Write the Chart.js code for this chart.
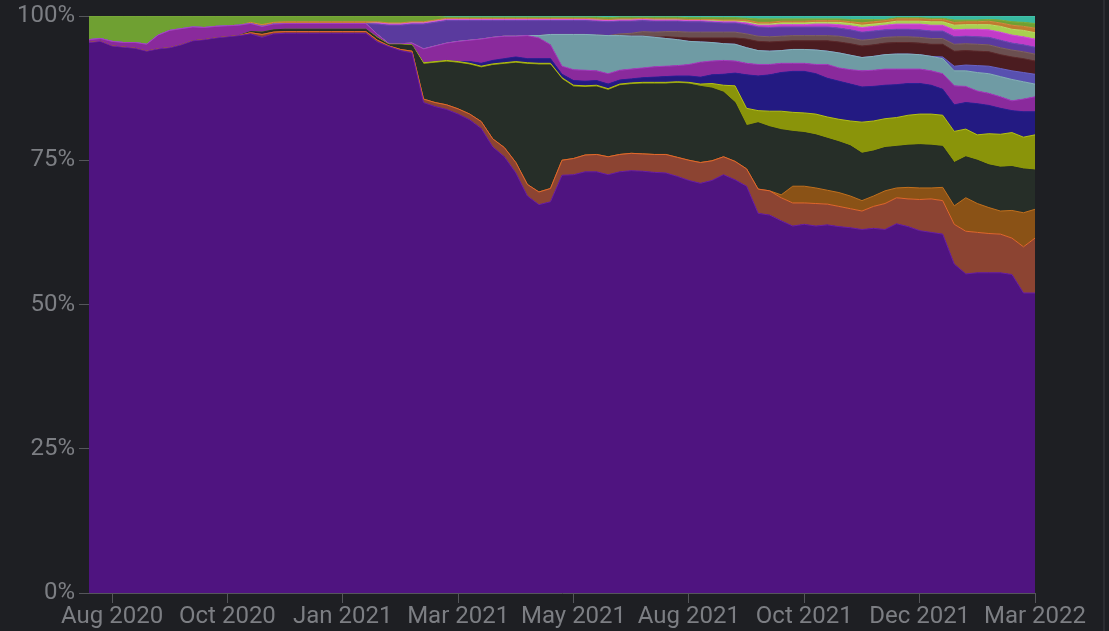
<!DOCTYPE html>
<html>
<head>
<meta charset="utf-8">
<script src="https://cdn.jsdelivr.net/npm/chart.js@4.4.1/dist/chart.umd.min.js"></script>
<style>
  html, body { margin: 0; padding: 0; background: #1e1f23; overflow: hidden; }
  #wrap { position: relative; width: 1109px; height: 631px; }
  #edge { position: absolute; left: 1103px; top: 0; width: 2px; height: 631px; background: #2b2c31; }
</style>
</head>
<body>
<div id="wrap">
  <canvas id="shareChart" width="1109" height="631"></canvas>
  <div id="edge"></div>
</div>
<script>
// weekly share (%) per series, bottom of the stack first
const firstWeek = '2020-08-04';

const P = [95.4,95.6,94.8,94.6,94.4,93.9,94.3,94.5,95.0,95.7,
  95.9,96.2,96.4,96.6,96.9,96.3,96.9,97.0,97.0,97.0,
  97.0,97.0,97.0,97.0,97.0,95.5,94.7,94.0,93.6,85.0,
  84.3,83.8,83.0,82.0,80.5,77.3,75.6,72.8,68.8,67.3,
  67.8,72.4,72.5,73.0,73.0,72.5,73.0,73.2,73.1,72.9,
  72.8,72.2,71.5,71.0,71.5,72.5,71.6,70.5,65.8,65.5,
  64.5,63.6,63.9,63.6,63.8,63.5,63.3,63.0,63.2,63.0,
  64.0,63.5,62.8,62.5,62.2,57.0,55.3,55.5,55.5,55.5,
  55.2,52.0,52.0];
const OR = [0,0,0,0,0,0,0,0,0,0,
  0,0,0,0,0.2,0.5,0.3,0.3,0.3,0.3,
  0.3,0.3,0.3,0.3,0.3,0.3,0.1,0.2,0.3,0.6,
  0.7,0.8,0.9,1.0,1.2,1.4,1.6,1.8,2.0,2.2,
  2.3,2.6,2.8,2.9,3.0,3.1,3.0,3.0,3.0,3.1,
  3.2,3.3,3.5,3.6,3.4,3.1,3.2,3.0,4.2,4.2,
  4.0,4.0,3.7,3.9,3.6,3.5,3.3,3.2,3.8,4.5,
  4.5,4.8,5.4,5.8,5.8,6.9,7.4,7.0,6.8,6.7,
  6.3,8.0,9.5];
const BR = [0,0,0,0,0,0,0,0,0,0,
  0,0,0,0,0,0,0,0,0,0,
  0,0,0,0,0,0,0,0,0,0,
  0,0,0,0,0,0,0,0,0,0,
  0,0,0,0,0,0,0,0,0,0,
  0,0,0,0,0,0,0,0,0,0,
  0.5,2.9,2.9,2.7,2.4,2.4,2.2,1.8,1.8,2.2,
  1.7,2.0,2.0,1.9,2.3,3.2,5.8,5.0,4.5,4.0,
  4.8,5.9,5.0];
const DG = [0,0,0,0,0,0,0,0,0,0,
  0,0,0,0,0.2,0.4,0.4,0.4,0.4,0.4,
  0.4,0.4,0.4,0.4,0.4,0.4,0.2,0.8,1.0,6.0,
  6.8,7.4,7.9,8.5,9.3,12.7,14.4,17.2,20.8,22.0,
  21.4,14.0,12.4,11.7,11.7,11.5,11.9,11.9,12.1,12.2,
  12.2,12.8,13.2,13.2,12.6,11.2,10.2,7.5,11.5,11.1,
  11.3,9.5,9.3,9.2,9.0,8.8,8.7,8.2,7.8,7.5,
  7.2,7.3,7.5,7.4,7.1,7.5,7.1,7.5,7.4,7.6,
  7.6,7.6,6.8];
const OL = [0,0,0,0,0,0,0,0,0,0,
  0,0,0,0,0,0,0,0,0,0,
  0,0,0,0,0,0.1,0.1,0.1,0.1,0.3,
  0.3,0.3,0.3,0.3,0.3,0.3,0.3,0.3,0.3,0.3,
  0.3,0.3,0.3,0.3,0.3,0.3,0.3,0.3,0.3,0.3,
  0.3,0.3,0.3,0.4,0.8,1.2,2.9,3.0,2.1,2.7,
  3.2,3.3,3.4,3.6,3.7,3.9,4.3,5.4,5.2,5.0,
  5.0,5.2,5.3,5.4,5.4,5.4,4.8,4.4,5.4,5.7,
  5.9,5.5,6.1];
const NV = [0,0,0,0,0,0,0,0,0,0,
  0,0,0,0,0,0,0,0,0,0,
  0,0,0,0,0,0,0,0,0,0,
  0,0,0,0.3,0.5,0.6,0.7,0.8,0.7,0.8,
  0.8,0.6,0.8,0.8,0.8,0.8,0.7,0.7,0.8,0.9,
  1.0,1.0,1.1,1.2,1.5,1.9,2.2,5.8,6.0,6.3,
  6.7,7.1,7.2,7.0,6.7,6.6,6.4,6.1,6.0,5.8,
  5.7,5.5,5.3,5.0,4.5,4.6,4.6,5.4,4.9,4.5,
  3.8,4.4,4.0];
const MG = [0.5,0.5,0.8,0.8,1.0,1.2,2.4,3.0,2.8,2.4,
  2.1,2.0,1.9,1.8,1.4,1.0,1.0,1.0,1.0,1.0,
  1.0,1.0,1.0,1.0,1.0,0.5,0.1,0.1,0.3,2.4,
  2.7,3.0,3.5,3.7,4.2,4.0,3.9,3.6,4.0,3.6,
  2.4,1.4,1.9,1.9,1.7,1.8,1.7,1.7,1.7,1.8,
  1.8,1.8,2.0,2.6,2.4,2.4,2.1,2.0,2.0,1.8,
  1.6,1.4,1.4,1.6,2.4,2.3,2.5,2.8,2.8,2.8,
  2.7,2.5,2.5,2.5,2.7,3.3,2.8,2.2,2.1,2.0,
  1.7,2.2,2.6];
const LB = [0,0,0,0,0,0,0,0,0,0,
  0,0,0,0,0,0,0,0,0,0,
  0,0,0,0,0,0,0,0,0,0,
  0,0,0,0,0,0,0,0,0,0.4,
  1.8,5.5,6.1,6.2,6.2,6.6,6.0,5.7,5.5,5.1,
  4.8,4.5,4.0,3.5,3.2,2.9,2.9,2.7,2.4,2.3,
  2.2,2.4,2.4,2.5,2.3,2.6,2.5,2.3,2.4,2.5,
  2.6,2.6,2.5,2.5,2.6,2.6,2.7,3.2,3.4,3.5,
  3.7,3.0,2.2];
const BV = [0,0,0,0,0,0,0,0,0,0,
  0,0,0,0,0,0,0,0,0,0,
  0,0,0,0,0,0,0,0,0,0,
  0,0,0,0,0,0,0,0,0,0,
  0,0,0,0,0,0,0,0,0,0,
  0,0,0,0,0,0,0,0,0,0,
  0,0,0,0,0,0,0,0,0,0,
  0,0,0,0,0.3,0.8,1.0,1.2,1.3,1.4,
  1.5,1.6,1.7];
const MR = [0,0,0,0,0,0,0,0,0,0,
  0,0,0,0,0,0,0,0,0,0,
  0,0,0,0,0,0,0,0,0,0,
  0,0,0,0,0,0,0,0,0,0,
  0,0,0,0,0,0,0,0,0,0,
  0.3,0.4,0.6,0.7,0.8,1.0,1.1,1.5,1.6,1.6,
  1.6,1.5,1.5,1.6,1.8,1.9,2.0,2.0,2.0,2.0,
  2.0,2.0,2.0,2.1,2.2,2.6,2.5,2.5,2.5,2.4,
  2.4,2.4,2.3];
const GB = [0,0,0,0,0,0,0,0,0,0,
  0,0,0,0,0,0,0,0,0,0,
  0,0,0,0,0,0,0,0,0,0,
  0,0,0,0,0,0,0,0,0,0,
  0,0,0,0,0,0,0.3,0.5,0.8,0.9,
  0.9,1.0,1.0,1.0,1.0,1.0,1.0,0.9,0.9,0.9,
  0.9,0.9,0.9,0.9,0.9,1.0,1.0,1.0,1.0,1.0,
  1.0,1.0,1.0,1.0,1.0,1.2,1.2,1.2,1.2,1.2,
  1.2,1.2,1.2];
const VI = [0,0,0,0,0,0,0,0,0,0,
  0,0,0,0,0,0,0,0,0,0,
  0,0,0,0,0,1.8,3.2,3.2,3.3,4.3,
  4.1,3.9,3.6,3.4,3.2,2.9,2.7,2.7,2.6,2.6,
  2.4,2.4,2.4,2.4,2.4,2.4,2.2,2.1,1.9,1.9,
  1.8,1.8,1.8,1.8,1.7,1.6,1.6,1.6,1.6,1.6,
  1.6,1.5,1.5,1.5,1.5,1.4,1.4,1.4,1.4,1.3,
  1.3,1.3,1.3,1.3,1.3,1.3,1.3,1.3,1.3,1.3,
  1.2,1.2,1.2];
const PK = [0,0,0,0,0,0,0,0,0,0,
  0,0,0,0,0,0,0,0,0,0,
  0,0,0,0,0,0.2,0.2,0.2,0.2,0.2,
  0.2,0.2,0.2,0.2,0.2,0.2,0.2,0.2,0.2,0.2,
  0.2,0.2,0.2,0.2,0.2,0.2,0.2,0.2,0.2,0.2,
  0.2,0.2,0.2,0.2,0.2,0.2,0.2,0.3,0.3,0.4,
  0.4,0.4,0.4,0.5,0.5,0.6,0.7,0.8,0.8,0.8,
  0.9,0.9,1.0,1.0,1.0,1.2,1.2,1.3,1.3,1.4,
  1.4,1.4,1.4];
const LM = [0,0,0,0,0,0,0,0,0,0,
  0,0,0,0,0,0,0,0,0,0,
  0,0,0,0,0,0,0,0,0,0,
  0,0,0,0,0,0,0,0,0,0,
  0,0,0,0,0,0,0,0,0,0,
  0,0,0,0,0.1,0.1,0.1,0.2,0.2,0.2,
  0.3,0.3,0.3,0.3,0.3,0.4,0.4,0.4,0.4,0.4,
  0.5,0.5,0.5,0.6,0.6,0.8,0.8,0.8,0.9,1.0,
  1.0,1.1,1.1];
const OG = [0,0,0,0,0,0,0,0,0,0,
  0,0,0,0,0.2,0.3,0.3,0.3,0.3,0.3,
  0.3,0.3,0.3,0.3,0.3,0.2,0.2,0.2,0.2,0.2,
  0.2,0.2,0.2,0.2,0.2,0.2,0.2,0.2,0.2,0.2,
  0.2,0.2,0.2,0.2,0.2,0.2,0.2,0.2,0.2,0.2,
  0.2,0.2,0.2,0.2,0.2,0.2,0.2,0.3,0.3,0.3,
  0.3,0.3,0.3,0.3,0.3,0.3,0.3,0.4,0.4,0.4,
  0.4,0.4,0.4,0.4,0.4,0.5,0.5,0.5,0.6,0.6,
  0.7,0.7,0.8];
const GR = [4.1,3.9,4.4,4.6,4.6,4.9,3.3,2.5,2.2,1.9,
  2.0,1.8,1.7,1.6,1.1,1.5,1.1,1.0,1.0,1.0,
  1.0,1.0,1.0,1.0,1.0,1.0,1.2,1.2,1.0,1.0,
  0.7,0.2,0.2,0.2,0.2,0.2,0.2,0.2,0.2,0.2,
  0.2,0.2,0.2,0.2,0.3,0.3,0.3,0.3,0.2,0.3,
  0.3,0.3,0.3,0.3,0.3,0.4,0.4,0.3,0.6,0.6,
  0.4,0.4,0.4,0.3,0.3,0.3,0.4,0.6,0.4,0.2,
  0.2,0.2,0.2,0.2,0.2,0.4,0.3,0.3,0.3,0.5,
  0.6,0.7,0.8];
const TL = [0,0,0,0,0,0,0,0,0,0,
  0,0,0,0,0,0,0,0,0,0,
  0,0,0,0,0,0,0,0,0,0,
  0,0.2,0.2,0.2,0.2,0.2,0.2,0.2,0.2,0.2,
  0.2,0.2,0.2,0.2,0.2,0.3,0.2,0.2,0.2,0.2,
  0.2,0.2,0.3,0.3,0.3,0.3,0.3,0.4,0.5,0.5,
  0.5,0.5,0.5,0.5,0.5,0.5,0.6,0.6,0.6,0.6,
  0.3,0.3,0.3,0.4,0.4,0.7,0.7,0.7,0.6,0.7,
  1.0,1.1,1.3];

// x axis labels and the week they sit on
const tickLabels = ['Aug 2020', 'Oct 2020', 'Jan 2021', 'Mar 2021', 'May 2021', 'Aug 2021', 'Oct 2021', 'Dec 2021', 'Mar 2022'];
const tickAt = [2, 12, 22, 32, 42, 52, 62, 72, 82];
const yTicks = [0, 25, 50, 75, 100];

// one date label per week
const weeks = [];
const d0 = new Date(firstWeek + 'T00:00:00Z');
for (let i = 0; i < P.length; i++) {
  weeks.push(new Date(d0.getTime() + i * 7 * 86400000).toISOString().slice(0, 10));
}

const layers = [
  { data: P,  fill: '#4f1480', line: '#6c1fa6' },
  { data: OR, fill: '#8c4432', line: '#e2682c' },
  { data: BR, fill: '#8a5216', line: '#c0701e' },
  { data: DG, fill: '#262e28', line: '#262e28' },
  { data: OL, fill: '#8a940a', line: '#b4c018' },
  { data: NV, fill: '#231a82', line: '#2a2096' },
  { data: MG, fill: '#8a2a9c', line: '#a83cc0' },
  { data: LB, fill: '#6f9ba4', line: '#86b2ba' },
  { data: BV, fill: '#5850b0', line: '#6a62c4' },
  { data: MR, fill: '#4b1c20', line: '#5e2a2c' },
  { data: GB, fill: '#6b4f50', line: '#806264' },
  { data: VI, fill: '#5a3a9e', line: '#6e4cb6' },
  { data: PK, fill: '#c23cc8', line: '#d656dc' },
  { data: LM, fill: '#a8d050', line: '#bede66' },
  { data: OG, fill: '#c07a30', line: '#d48c40' },
  { data: GR, fill: '#6fa032', line: '#80b23e' },
  { data: TL, fill: '#38b8a0', line: '#4ccab2' }
];

// shares per week, scaled so each week stacks to 100
const totals = weeks.map((_, i) => layers.reduce((s, l) => s + l.data[i], 0));

const axisColor = '#55565b';
const textColor = '#7c7e83';

new Chart(document.getElementById('shareChart'), {
  type: 'line',
  data: {
    labels: weeks,
    datasets: layers.map((l, k) => ({
      data: l.data.map((v, i) => v / totals[i] * 100),
      backgroundColor: l.fill,
      borderColor: l.line,
      borderWidth: 1,
      pointRadius: 0,
      tension: 0,
      fill: k === 0 ? 'origin' : '-1'
    }))
  },
  options: {
    responsive: false,
    animation: false,
    devicePixelRatio: 1,
    layout: { padding: { top: 15, right: 74, left: 0, bottom: 0 } },
    plugins: { legend: { display: false }, tooltip: { enabled: false } },
    scales: {
      x: {
        type: 'category',
        grid: { drawOnChartArea: false, color: axisColor, tickLength: 10 },
        border: { color: axisColor },
        ticks: {
          autoSkip: false,
          maxRotation: 0,
          padding: 0,
          color: textColor,
          font: { family: 'Roboto', size: 24 },
          callback: (v, i) => tickLabels[i]
        },
        afterBuildTicks: axis => { axis.ticks = tickAt.map(v => ({ value: v })); },
        afterFit: axis => { axis.height = 38; }
      },
      y: {
        stacked: true,
        min: 0,
        max: 100,
        grid: { drawOnChartArea: false, color: axisColor, tickLength: 10 },
        border: { color: axisColor },
        ticks: {
          padding: 4,
          color: textColor,
          font: { family: 'Roboto', size: 24, lineHeight: 1 },
          callback: v => v + '%'
        },
        afterBuildTicks: axis => { axis.ticks = yTicks.map(v => ({ value: v })); },
        afterFit: axis => { axis.width = 89; }
      }
    }
  }
});
</script>
</body>
</html>
